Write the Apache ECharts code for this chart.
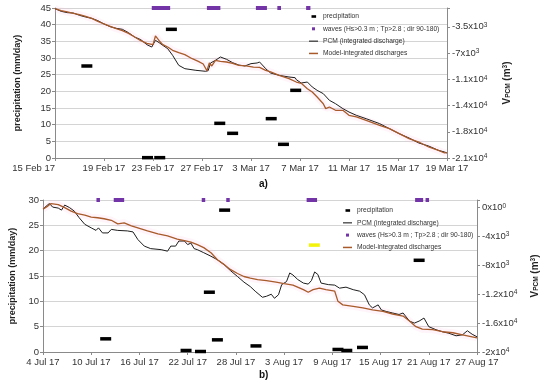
<!DOCTYPE html>
<html><head><meta charset="utf-8">
<script src="https://cdn.jsdelivr.net/npm/echarts@6/dist/echarts.min.js"></script>
<style>html,body{margin:0;padding:0;background:#fff}#c{width:550px;height:386px}</style>
</head><body><div id="c"></div>
<script>
// ---------- Panel a) 15 Feb 17 -> 19 Mar 17 (x = days since 15 Feb 17) ----------
const xLabelsA = ['15 Feb 17','19 Feb 17','23 Feb 17','27 Feb 17','3 Mar 17','7 Mar 17','11 Mar 17','15 Mar 17','19 Mar 17'];
const rightTicksA = [-3500,-7000,-10500,-14000,-17500,-21000];
const rightLabelsA = ['-3.5x10^3','-7x10^3','-1.1x10^4','-1.4x10^4','-1.8x10^4','-2.1x10^4'];
const pcmDaysA = [0,0.5,1,1.5,2,2.5,3,3.5,4,4.5,5,5.5,6,6.5,7,7.5,7.9,8.2,8.5,8.8,9.2,9.6,10.1,10.6,11.5,12.3,12.5,12.7,13.1,13.5,14,14.5,15,15.5,16,16.5,16.7,17,17.2,17.6,18.3,19.1,19.6,19.7,20.1,20.6,21,21.4,21.9,22.4,22.9,23.5,24,24.6,25.4,26.5,27.3,28.1,28.9,29.7,30.5,31.3,31.8,32];
const pcmA = [-1090,-1440,-1620,-1670,-1980,-2200,-2380,-2690,-3130,-3490,-3710,-3840,-4290,-4870,-5220,-5890,-6200,-5310,-5620,-5980,-6420,-7310,-8640,-9090,-9310,-9440,-9360,-8330,-7980,-7530,-7840,-8290,-8600,-8730,-8420,-8330,-8200,-8730,-9090,-9670,-9980,-10200,-10290,-10560,-11000,-10870,-11530,-11980,-12420,-13310,-13760,-14420,-14870,-15310,-15760,-16420,-17090,-17760,-18330,-19000,-19400,-19980,-20200,-20330];
const modelDaysA = [0,0.5,1,1.5,2,2.5,3,3.5,4,4.5,5,5.5,6,6.5,7,7.5,8,8.2,8.5,8.8,9.2,9.6,10.1,10.6,11.2,11.7,12.1,12.4,12.6,12.8,13.1,13.5,14,14.5,15,15.6,16.2,16.7,17.2,17.6,18.3,19.1,19.7,20.1,20.6,21,21.4,21.9,22.1,22.4,22.9,23.5,24,24.6,25.4,26.5,27.3,28.1,28.9,29.7,30.5,31.3,31.8,32];
const modelA = [-1090,-1360,-1530,-1710,-1890,-2110,-2380,-2780,-3130,-3440,-3760,-4020,-4380,-4870,-5360,-5710,-5890,-4730,-5360,-5890,-6200,-6640,-6960,-7220,-7760,-8110,-8470,-9360,-8330,-8730,-7980,-8110,-8200,-8380,-8640,-8730,-8870,-8910,-9310,-9530,-9980,-10420,-10870,-11040,-11760,-12200,-12870,-13760,-14420,-14200,-14640,-14640,-15310,-15530,-15980,-16640,-17090,-17760,-18420,-18870,-19530,-19980,-20330,-20290];
const precipDaysA = [2.6,7.55,8.55,9.5,13.45,14.5,17.65,18.65,19.65];
const precipA = [27.6,0.1,0.1,38.6,10.4,7.4,11.8,4.1,20.3];
const waveStartA = [7.9,12.4,16.4,18.15,20.5];
const waveEndA = [9.4,13.5,17.3,18.45,20.85];
const waveLevelA = 45;

// ---------- Panel b) 4 Jul 17 -> 27 Aug 17 (x = days since 4 Jul 17) ----------
const xLabelsB = ['4 Jul 17','10 Jul 17','16 Jul 17','22 Jul 17','28 Jul 17','3 Aug 17','9 Aug 17','15 Aug 17','21 Aug 17','27 Aug 17'];
const rightTicksB = [0,-4000,-8000,-12000,-16000,-20000];
const rightLabelsB = ['0x10^0','-4x10^3','-8x10^3','-1.2x10^4','-1.6x10^4','-2x10^4'];
const pcmDaysB = [0,0.4,0.8,1.2,1.9,2.3,2.7,3.3,3.9,4.5,5.2,6,6.6,6.9,7.4,8.1,8.5,9.3,10.5,11.2,11.8,12.6,13.4,14.7,15.5,15.9,16.5,16.9,17.6,18,18.4,18.8,19.2,20,20.9,21.7,22.5,23.3,24.2,25,25.8,26.4,27.3,27.8,28.4,28.8,29.3,29.7,30.3,30.7,31.1,31.7,32.4,33,33.4,33.8,34.2,34.6,35.5,36.3,36.9,37.7,38.6,39.4,40,40.6,41,41.7,42.1,42.7,43.5,44.3,44.8,45.6,46.2,46.8,47.4,48,48.9,49.7,50.5,51.4,52.2,52.8,53.4,54];
const pcmB = [-260,160,510,20,-120,-400,300,-50,-540,-1450,-2360,-2850,-3200,-2850,-3550,-3550,-3060,-3200,-3270,-3410,-4460,-5370,-5720,-5860,-6070,-5370,-5370,-4670,-4670,-5160,-4950,-5720,-5860,-6280,-6770,-7260,-7890,-8730,-9570,-10340,-10970,-11600,-12440,-12300,-12020,-12580,-12090,-10690,-10270,-9080,-9360,-9990,-10480,-10620,-10130,-8940,-9290,-10480,-10690,-10760,-11180,-11040,-11390,-11600,-12090,-13490,-13910,-13490,-14190,-14400,-14610,-14820,-14610,-15730,-16010,-15730,-15310,-16500,-16920,-17200,-17410,-17760,-17620,-17060,-17550,-17900];
const modelDaysB = [0,0.6,1,1.9,2.7,3.5,4.3,5.2,6,6.8,7.6,8.5,9.3,10.1,11,11.8,13,14.3,15.5,16.7,17.6,18.4,19.2,20,20.9,21.7,22.5,23.3,24.2,25,25.8,26.7,27.8,29,30,31.1,32.4,33,33.6,34.4,35.2,36.3,36.7,37.3,38.6,39.8,41,42.3,43.5,44.8,45.6,46.4,47.2,48.5,49.7,51,52.2,53.4,54];
const modelB = [-260,160,510,370,-50,-540,-890,-1100,-1380,-1450,-1590,-1800,-2290,-2150,-2570,-2850,-3270,-3690,-3970,-4390,-4600,-4810,-5160,-5580,-6280,-7260,-7890,-8590,-9150,-9570,-9780,-9990,-10130,-10340,-10550,-10760,-11390,-11740,-11390,-11180,-11390,-11600,-13000,-13490,-13700,-13910,-14190,-14400,-14750,-15030,-15730,-16500,-16850,-16920,-17200,-17340,-17620,-17900,-18040];
const precipDaysB = [7.8,17.8,19.6,20.7,21.7,22.6,26.5,36.7,37.8,39.75,46.8];
const precipB = [2.6,0.3,0.1,11.8,2.4,28.0,1.2,0.5,0.3,0.9,18.1];
const yellowDaysB = [33.76];
const yellowB = [21.1];
const waveStartB = [6.65,8.8,19.75,22.8,32.8,46.3,47.6];
const waveEndB = [7.0,10.1,20.1,23.15,34.1,47.3,47.95];
const waveLevelB = 30;

// ---------- names ----------
const NAME_P = 'precipitation';
const NAME_W = 'waves (Hs>0.3 m ; Tp>2.8 ; dir 90-180)';
const NAME_PCM = 'PCM (integrated discharge)';
const NAME_M = 'Model-integrated discharges';

const FONT = '"Liberation Sans", Arial, sans-serif';
const PURPLE = '#7234a6';
const BROWN = '#a85a2a';
const BLACK = '#1e1e1e';
const AX = '#8a8a8a';

function zip(xs, ys) { return xs.map((x, i) => [x, ys[i]]); }
function supLabel(ticks, labels) {
  return function (v) {
    const i = ticks.indexOf(Math.round(v));
    if (i < 0) return '';
    const parts = labels[i].split('^');
    return '{b|' + parts[0] + '}{s|' + parts[1] + '}';
  };
}
const supRich = { b: { fontSize: 9.5, color: '#333', fontFamily: FONT }, s: { fontSize: 6.5, color: '#333', verticalAlign: 'top', fontFamily: FONT } };
const rightName = '{v|V}{sub|PCM}{v| (m}{sup|3}{v|)}';
const rightNameRich = {
  v: { fontSize: 10, fontWeight: 'bold', color: '#222', fontFamily: FONT },
  sub: { fontSize: 6.5, fontWeight: 'bold', color: '#222', verticalAlign: 'bottom', fontFamily: FONT },
  sup: { fontSize: 6.5, fontWeight: 'bold', color: '#222', verticalAlign: 'top', fontFamily: FONT }
};

function xAxis(gi, max, interval, labels, alignMin) {
  const o = {
    type: 'value', gridIndex: gi, min: 0, max: max, interval: interval,
    axisLine: { lineStyle: { color: AX, width: 1 } },
    axisTick: { show: true, length: 3, lineStyle: { color: AX } },
    splitLine: { show: false },
    axisLabel: { formatter: v => labels[Math.round(v / interval)] || '', fontSize: 9.5, color: '#333', margin: 5, fontFamily: FONT }
  };
  if (alignMin) o.axisLabel.alignMinLabel = 'right';
  return o;
}
function leftAxis(gi, max, gap) {
  return {
    type: 'value', gridIndex: gi, position: 'left', min: 0, max: max, interval: 5,
    axisLine: { show: true, lineStyle: { color: AX } },
    axisTick: { show: true, length: 3, lineStyle: { color: AX } },
    splitLine: { show: true, lineStyle: { color: '#d4d4d4', width: 1 } },
    axisLabel: { fontSize: 9.5, color: '#333', margin: 4, fontFamily: FONT },
    name: 'precipitation (mm/day)', nameLocation: 'middle', nameGap: gap, nameRotate: 90,
    nameTextStyle: { fontSize: 9, fontWeight: 'bold', color: '#222', fontFamily: FONT }
  };
}
function rightAxis(gi, min, max, interval, ticks, labels, gap) {
  return {
    type: 'value', gridIndex: gi, position: 'right', min: min, max: max, interval: interval,
    axisLine: { show: true, lineStyle: { color: AX } },
    axisTick: { show: true, length: 3, lineStyle: { color: AX } },
    splitLine: { show: false },
    axisLabel: { formatter: supLabel(ticks, labels), rich: supRich, margin: 5 },
    name: rightName, nameLocation: 'middle', nameGap: gap, nameRotate: 90,
    nameTextStyle: { rich: rightNameRich }
  };
}
function waveSeries(xi, yi, starts, ends, level) {
  return {
    type: 'custom', name: NAME_W, xAxisIndex: xi, yAxisIndex: yi, z: 5, clip: false,
    itemStyle: { color: PURPLE },
    data: starts.map((s, i) => [s, ends[i], level]),
    encode: { x: [0, 1], y: 2 },
    renderItem: function (params, api) {
      const a = api.coord([api.value(0), api.value(2)]);
      const b = api.coord([api.value(1), api.value(2)]);
      const w = Math.max(b[0] - a[0], 3.5);
      return { type: 'rect', shape: { x: a[0], y: a[1] - 2, width: w, height: 4 }, style: { fill: PURPLE } };
    }
  };
}
function lineSeries(name, xi, yi, data, color, width, z) {
  return { type: 'line', name: name, xAxisIndex: xi, yAxisIndex: yi, data: data, symbol: 'none', z: z,
    lineStyle: { color: color, width: width }, itemStyle: { color: color }, animation: false };
}
function haloSeries(xi, yi, data) {
  return { type: 'line', name: 'halo', xAxisIndex: xi, yAxisIndex: yi, data: data, symbol: 'none', z: 1, silent: true,
    lineStyle: { color: 'rgba(255,185,220,0.16)', width: 7 }, legendHoverLink: false };
}
function precipSeries(xi, yi, days, vals, color) {
  return { type: 'scatter', name: NAME_P, xAxisIndex: xi, yAxisIndex: yi, data: zip(days, vals), z: 6,
    symbol: 'rect', symbolSize: [11, 3.5], itemStyle: { color: color, opacity: 1 }, clip: false };
}

const iconDash = 'path://M0,0M9,9M2.5,3.2h4.6v2.6h-4.6z';
const iconSq = 'path://M0,0M9,9M3,3h3v3h-3z';
const iconLine = 'path://M0,0M9,9M0,4h9v1.1h-9z';
const iconLineThick = 'path://M0,0M9,9M0,3.8h9v1.5h-9z';
function legend(left, top, order) {
  const items = {};
  items[NAME_P] = { name: NAME_P, icon: iconDash, itemStyle: { color: '#000' } };
  items[NAME_W] = { name: NAME_W, icon: iconSq, itemStyle: { color: PURPLE } };
  items[NAME_PCM] = { name: NAME_PCM, icon: iconLine, itemStyle: { color: BLACK } };
  items[NAME_M] = { name: NAME_M, icon: iconLineThick, itemStyle: { color: BROWN } };
  return { orient: 'vertical', left: left, top: top, itemWidth: 9, itemHeight: 9, itemGap: 3.3, padding: 0,
    selectedMode: false, textStyle: { fontSize: 6.7, color: '#333', fontFamily: FONT }, data: order.map(n => items[n]) };
}

const chart = echarts.init(document.getElementById('c'), null, { renderer: 'canvas' });
chart.setOption({
  animation: false,
  backgroundColor: '#fff',
  textStyle: { fontFamily: FONT },
  title: [
    { text: 'a)', left: 259, top: 179, padding: 0, textStyle: { fontSize: 10, fontWeight: 'bold', color: '#111', fontFamily: FONT } },
    { text: 'b)', left: 259, top: 370, padding: 0, textStyle: { fontSize: 10, fontWeight: 'bold', color: '#111', fontFamily: FONT } }
  ],
  grid: [
    { left: 55, right: 103, top: 8, height: 150 },
    { left: 40, right: 73, top: 200, height: 152 }
  ],
  xAxis: [ xAxis(0, 32, 4, xLabelsA, true), xAxis(1, 54, 6, xLabelsB, false) ],
  yAxis: [
    leftAxis(0, 45, 33),
    rightAxis(0, -21000, -1000, 3500, rightTicksA, rightLabelsA, 55),
    leftAxis(1, 30, 26),
    rightAxis(1, -20000, 1000, 4000, rightTicksB, rightLabelsB, 53)
  ],
  legend: [
    legend(309, 12, [NAME_P, NAME_W, NAME_PCM, NAME_M]),
    legend(343, 206, [NAME_P, NAME_PCM, NAME_W, NAME_M])
  ],
  series: [
    haloSeries(0, 1, zip(modelDaysA, modelA)),
    lineSeries(NAME_PCM, 0, 1, zip(pcmDaysA, pcmA), BLACK, 1, 3),
    lineSeries(NAME_M, 0, 1, zip(modelDaysA, modelA), BROWN, 1.3, 4),
    precipSeries(0, 0, precipDaysA, precipA, '#000'),
    waveSeries(0, 0, waveStartA, waveEndA, waveLevelA),
    haloSeries(1, 3, zip(modelDaysB, modelB)),
    lineSeries(NAME_PCM, 1, 3, zip(pcmDaysB, pcmB), BLACK, 1, 3),
    lineSeries(NAME_M, 1, 3, zip(modelDaysB, modelB), BROWN, 1.3, 4),
    precipSeries(1, 2, precipDaysB, precipB, '#000'),
    { type: 'scatter', name: 'yellow', xAxisIndex: 1, yAxisIndex: 2, data: zip(yellowDaysB, yellowB), z: 6,
      symbol: 'rect', symbolSize: [11, 3.5], itemStyle: { color: '#f2f20a', opacity: 1 } },
    waveSeries(1, 2, waveStartB, waveEndB, waveLevelB)
  ]
});
</script>
</body></html>
